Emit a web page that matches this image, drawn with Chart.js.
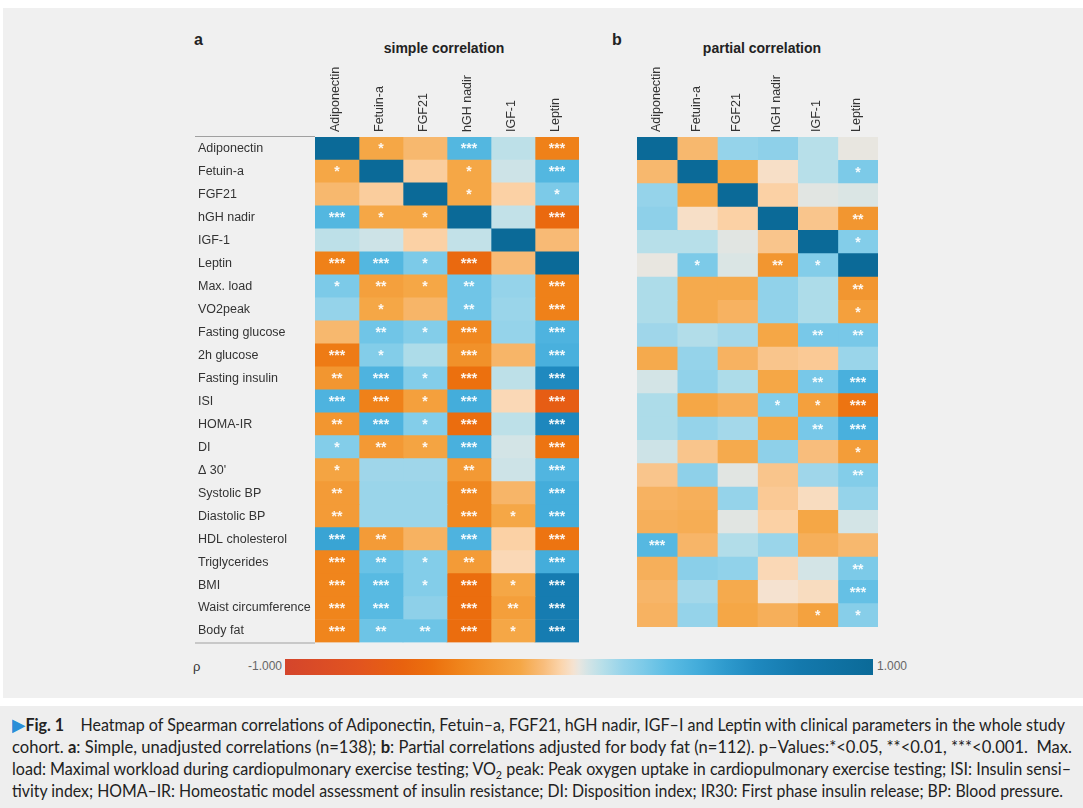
<!DOCTYPE html>
<html><head><meta charset="utf-8">
<script src="https://cdn.jsdelivr.net/npm/chart.js@4.4.1/dist/chart.umd.min.js"></script>
<style>
body{margin:0;width:1083px;height:808px;background:#fff;position:relative;overflow:hidden;font-family:"Liberation Sans",Arial,sans-serif;}
#panel{position:absolute;left:3px;top:8px;width:1080px;height:690px;background:#f0f0f0;}
canvas{position:absolute;}
.lbl{position:absolute;white-space:nowrap;color:#222;}
.ttl{font-family:"Liberation Sans Narrow","Liberation Sans",Arial,sans-serif;font-weight:bold;font-size:14px;text-align:center;width:200px;}
.pl{font-family:"Liberation Sans Narrow","Liberation Sans",Arial,sans-serif;font-weight:bold;font-size:16px;}
#cbar{position:absolute;left:285px;top:659px;width:588px;height:16px;}
#caption{position:absolute;left:0;top:706px;width:1083px;height:102px;background:#eeeeee;font-family:Lato,"Open Sans",sans-serif;font-size:16.5px;color:#222;}
.cl{position:absolute;left:12px;white-space:nowrap;transform-origin:left center;line-height:22px;}
.cl sub{font-size:11px;line-height:0;}
.tri{color:#2a8fd8;font-family:"DejaVu Sans",sans-serif;font-size:18px;line-height:0;}
</style></head>
<body>
<div id="panel"></div>
<div class="lbl pl" style="left:194px;top:31px;">a</div>
<div class="lbl ttl" style="left:344px;top:40px;">simple correlation</div>
<div class="lbl pl" style="left:612px;top:31px;">b</div>
<div class="lbl ttl" style="left:662px;top:40px;">partial correlation</div>
<canvas id="cA" width="385" height="590" style="left:194px;top:60px;"></canvas>
<canvas id="cB" width="241" height="567" style="left:637px;top:60px;"></canvas>
<div class="lbl" style="left:193px;top:659px;font-size:13px;color:#333;">ρ</div>
<div class="lbl" id="cbMin" style="left:222px;top:659px;width:60px;text-align:right;font-size:12px;color:#666;"></div>
<div id="cbar"></div>
<div class="lbl" id="cbMax" style="left:877px;top:659px;font-size:12px;color:#666;"></div>
<div id="caption">
<div class="cl" data-w="1053" style="top:8px;"><span class="tri">▶</span><b>Fig. 1</b>&nbsp;&nbsp;&nbsp; Heatmap of Spearman correlations of Adiponectin, Fetuin–a, FGF21, hGH nadir, IGF–I and Leptin with clinical parameters in the whole study</div>
<div class="cl" data-w="1060" style="top:30px;">cohort. <b>a</b>: Simple, unadjusted correlations (n=138); <b>b</b>: Partial correlations adjusted for body fat (n=112). p–Values:*&lt;0.05, **&lt;0.01, ***&lt;0.001.&nbsp; Max.</div>
<div class="cl" data-w="1059" style="top:52px;">load: Maximal workload during cardiopulmonary exercise testing; VO<sub>2</sub> peak: Peak oxygen uptake in cardiopulmonary exercise testing; ISI: Insulin sensi–</div>
<div class="cl" data-w="1051" style="top:74px;">tivity index; HOMA–IR: Homeostatic model assessment of insulin resistance; DI: Disposition index; IR30: First phase insulin release; BP: Blood pressure.</div>
</div>
<script>
// ---------- data ----------
const cols = ["Adiponectin","Fetuin-a","FGF21","hGH nadir","IGF-1","Leptin"];
const rowsSimple = ["Adiponectin","Fetuin-a","FGF21","hGH nadir","IGF-1","Leptin","Max. load","VO2peak","Fasting glucose","2h glucose","Fasting insulin","ISI","HOMA-IR","DI","Δ 30'","Systolic BP","Diastolic BP","HDL cholesterol","Triglycerides","BMI","Waist circumference","Body fat"];
const rowsPartial = ["Adiponectin","Fetuin-a","FGF21","hGH nadir","IGF-1","Leptin","Max. load","VO2peak","Fasting glucose","2h glucose","Fasting insulin","ISI","HOMA-IR","DI","Δ 30'","Systolic BP","Diastolic BP","HDL cholesterol","Triglycerides","BMI","Waist circumference"];
const simpleRho = [
 [1,-0.2,-0.14,0.34,0.07,-0.42],
 [-0.2,1,-0.08,-0.2,0.04,0.34],
 [-0.14,-0.08,1,-0.2,-0.07,0.22],
 [0.34,-0.2,-0.2,1,0.06,-0.55],
 [0.07,0.04,-0.07,0.06,1,-0.13],
 [-0.42,0.34,0.22,-0.55,-0.13,1],
 [0.22,-0.24,-0.2,0.25,0.15,-0.42],
 [0.15,-0.2,-0.15,0.25,0.14,-0.42],
 [-0.14,0.25,0.2,-0.38,0.15,0.36],
 [-0.45,0.2,0.1,-0.33,-0.15,0.38],
 [-0.3,0.36,0.2,-0.5,0.07,0.6],
 [0.36,-0.42,-0.24,0.4,-0.05,-0.65],
 [-0.3,0.36,0.2,-0.52,0.07,0.62],
 [0.2,-0.28,-0.22,0.38,0.03,-0.48],
 [-0.22,0.13,0.13,-0.28,0.04,0.35],
 [-0.27,0.14,0.14,-0.38,-0.15,0.4],
 [-0.27,0.14,0.14,-0.38,-0.2,0.4],
 [0.45,-0.27,-0.16,0.36,-0.07,-0.48],
 [-0.4,0.27,0.2,-0.27,-0.05,0.4],
 [-0.4,0.32,0.2,-0.52,-0.2,0.72],
 [-0.4,0.32,0.17,-0.52,-0.25,0.72],
 [-0.4,0.26,0.26,-0.52,-0.2,0.72]
];
const simpleSig = [
 ["","*","","***","","***"],
 ["*","","","*","","***"],
 ["","","","*","","*"],
 ["***","*","*","","","***"],
 ["","","","","",""],
 ["***","***","*","***","",""],
 ["*","**","*","**","","***"],
 ["","*","","**","","***"],
 ["","**","*","***","","***"],
 ["***","*","","***","","***"],
 ["**","***","*","***","","***"],
 ["***","***","*","***","","***"],
 ["**","***","*","***","","***"],
 ["*","**","*","***","","***"],
 ["*","","","**","","***"],
 ["**","","","***","","***"],
 ["**","","","***","*","***"],
 ["***","**","","***","","***"],
 ["***","**","*","**","","***"],
 ["***","***","*","***","*","***"],
 ["***","***","","***","**","***"],
 ["***","**","**","***","*","***"]
];
const partialRho = [
 [1,-0.14,0.15,0.17,0.08,0.0],
 [-0.14,1,-0.2,-0.03,0.08,0.22],
 [0.15,-0.2,1,-0.07,0.01,0.02],
 [0.17,-0.03,-0.07,1,-0.1,-0.3],
 [0.08,0.08,0.01,-0.1,1,0.2],
 [0.0,0.22,0.02,-0.3,0.2,1],
 [0.1,-0.19,-0.19,0.16,0.1,-0.3],
 [0.1,-0.19,-0.16,0.16,0.1,-0.24],
 [0.13,0.09,0.12,-0.2,0.23,0.23],
 [-0.19,0.15,-0.16,-0.1,-0.09,0.14],
 [0.03,0.16,0.1,-0.2,0.23,0.38],
 [0.1,-0.2,-0.17,0.2,-0.24,-0.48],
 [0.1,0.15,0.12,-0.2,0.23,0.38],
 [0.04,-0.1,-0.19,0.17,-0.12,-0.26],
 [-0.1,0.17,0.01,-0.1,0.13,0.2],
 [-0.16,-0.17,0.15,-0.09,-0.04,0.15],
 [-0.17,-0.18,0.01,-0.07,-0.2,0.03],
 [0.33,-0.15,0.09,0.14,-0.17,-0.14],
 [-0.17,0.18,0.16,-0.05,0.03,0.22],
 [-0.15,0.12,-0.19,-0.02,-0.04,0.28],
 [-0.16,0.15,-0.2,-0.17,-0.23,0.19]
];
const partialSig = [
 ["","","","","",""],
 ["","","","","","*"],
 ["","","","","",""],
 ["","","","","","**"],
 ["","","","","","*"],
 ["","*","","**","*",""],
 ["","","","","","**"],
 ["","","","","","*"],
 ["","","","","**","**"],
 ["","","","","",""],
 ["","","","","**","***"],
 ["","","","*","*","***"],
 ["","","","","**","***"],
 ["","","","","","*"],
 ["","","","","","**"],
 ["","","","","",""],
 ["","","","","",""],
 ["***","","","","",""],
 ["","","","","","**"],
 ["","","","","","***"],
 ["","","","","*","*"]
];
const scaleEnds = ["-1.000","1.000"];

// ---------- colour map ----------
const cmap = [[-1,'#d4452c'],[-0.75,'#e2541f'],[-0.6,'#e8620f'],[-0.5,'#ec700e'],[-0.4,'#f0851c'],[-0.3,'#f29630'],[-0.2,'#f5a746'],[-0.12,'#f8bd7c'],[-0.06,'#fbd5ad'],[-0.02,'#f5e2d0'],[0,'#e8e6e0'],[0.03,'#d3e4e6'],[0.08,'#b7dfe9'],[0.15,'#95d3ea'],[0.22,'#7ccae8'],[0.3,'#5dbde4'],[0.4,'#44addb'],[0.5,'#2e9acd'],[0.6,'#1f89bf'],[0.75,'#1479ad'],[1,'#0b6a98']];
function hex(h){return [1,3,5].map(i=>parseInt(h.substr(i,2),16));}
function rhoColor(v){
  for(let i=1;i<cmap.length;i++){
    if(v<=cmap[i][0]){
      const [a,ca]=cmap[i-1],[b,cb]=cmap[i];const t=(v-a)/(b-a);
      const A=hex(ca),B=hex(cb);
      return 'rgb('+A.map((x,k)=>Math.round(x+(B[k]-x)*t)).join(',')+')';
    }
  }
  return cmap[cmap.length-1][1];
}
document.getElementById('cbar').style.background='linear-gradient(to right,'+cmap.map(s=>s[1]+' '+((s[0]+1)/2*100).toFixed(2)+'%').join(',')+')';
document.getElementById('cbMin').textContent=scaleEnds[0];
document.getElementById('cbMax').textContent=scaleEnds[1];

// ---------- plugins ----------
const starPlugin={id:'stars',afterDatasetsDraw(chart,args,o){
  const {ctx,scales:{x,y}}=chart;
  ctx.save();
  ctx.font='bold 14px "Liberation Sans", Arial, sans-serif';
  ctx.fillStyle='rgba(255,255,255,0.92)';
  ctx.textAlign='center';ctx.textBaseline='middle';
  o.sig.forEach((row,i)=>row.forEach((s,c)=>{if(s)ctx.fillText(s,x.getPixelForValue(c+0.5),y.getPixelForValue(i)+1);}));
  ctx.restore();
}};
const edgePlugin={id:'edges',afterDraw(chart,args,o){
  if(!o.on)return;
  const {ctx,chartArea:a}=chart;
  ctx.save();ctx.strokeStyle='#a0a0a0';ctx.lineWidth=1;ctx.beginPath();
  ctx.moveTo(1,a.top-0.5);ctx.lineTo(a.left,a.top-0.5);
  ctx.moveTo(1,a.bottom+0.5);ctx.lineTo(a.left,a.bottom+0.5);
  ctx.stroke();ctx.restore();
}};

function heatmap(id,rows,rho,sig,showY,yWidth){
  const datasets=cols.map((c,ci)=>({
    data:rows.map(()=>[ci,ci+1]),
    backgroundColor:rows.map((r,ri)=>rhoColor(rho[ri][ci])),
    borderWidth:0,borderSkipped:false,grouped:false,
    barPercentage:1,categoryPercentage:1
  }));
  return new Chart(document.getElementById(id),{
    type:'bar',
    data:{labels:rows,datasets},
    plugins:[starPlugin,edgePlugin],
    options:{
      indexAxis:'y',responsive:false,animation:false,devicePixelRatio:1,
      layout:{padding:{left:showY?4:0,right:0,top:0,bottom:0}},
      plugins:{legend:{display:false},tooltip:{enabled:false},stars:{sig},edges:{on:showY}},
      scales:{
        x:{type:'linear',position:'top',min:0,max:6,
           grid:{display:false,drawTicks:false},border:{display:false},
           afterBuildTicks:s=>{s.ticks=cols.map((c,i)=>({value:i+0.5}));},
           afterFit:s=>{s.height=77;},
           ticks:{autoSkip:false,minRotation:90,maxRotation:90,padding:5,labelOffset:14,color:'#333',
                  font:{family:'"Liberation Sans", Arial, sans-serif',size:12.5},
                  callback:(v,i)=>cols[i]}},
        y:{type:'category',display:showY,offset:true,
           grid:{display:false,drawTicks:false},border:{display:false},
           afterFit:s=>{s.width=yWidth;},
           ticks:{crossAlign:'far',padding:0,color:'#333',autoSkip:false,
                  font:{family:'"Liberation Sans", Arial, sans-serif',size:12.5}}}
      }
    }
  });
}
heatmap('cA',rowsSimple,simpleRho,simpleSig,true,117);
heatmap('cB',rowsPartial,partialRho,partialSig,false,0);

// ---------- caption fit ----------
function fit(){document.querySelectorAll('.cl').forEach(el=>{el.style.transform='none';const w=el.getBoundingClientRect().width;el.style.transform='scaleX('+(+el.dataset.w/w)+')';});}
fit();
if(document.fonts&&document.fonts.ready)document.fonts.ready.then(fit);
</script>
</body></html>
